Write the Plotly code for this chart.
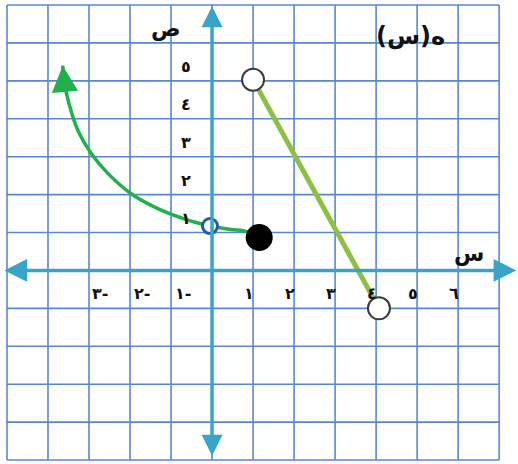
import plotly.graph_objects as go

# Grid extent (units)
x_min, x_max = -5, 7
y_min, y_max = -5, 7

# Curved piece, from the closed end point to the arrow tip
curve_x = [1.12, 0.83, 0.46, -0.05, -0.27, -0.68, -1.32, -1.98, -2.54, -2.95, -3.27, -3.49, -3.61, -3.64]
curve_y = [0.87, 1.03, 1.08, 1.17, 1.23, 1.36, 1.63, 2.03, 2.56, 3.09, 3.69, 4.41, 5.01, 5.4]

# Straight piece
line_x = [1.0, 4.07]
line_y = [5.03, -1.0]

# End points
open_big_x = [1.0, 4.07]
open_big_y = [5.03, -1.0]
open_small_x = [-0.05]
open_small_y = [1.17]
closed_x = [1.15]
closed_y = [0.87]

# Tick labels
x_ticks_pos = [1, 2, 3, 4, 5, 6]
x_ticks_pos_lbl = ["١", "٢", "٣", "٤", "٥", "٦"]
x_ticks_neg = [-1, -2, -3]
x_ticks_neg_lbl = ["١-", "٢-", "٣-"]
y_ticks = [1, 2, 3, 4, 5]
y_ticks_lbl = ["١", "٢", "٣", "٤", "٥"]

GRID = "#5a87d4"
AXIS = "#38a4c7"
CURVE = "#20b04c"
SEG = "#8cc043"
FONT = "DejaVu Sans"

fig = go.Figure()

# Square grid
shapes = []
for gx in range(x_min, x_max + 1):
    shapes.append(dict(type="line", xref="x", yref="y", x0=gx, x1=gx, y0=y_min, y1=y_max,
                       line=dict(color=GRID, width=1.6), layer="below"))
for gy in range(y_min, y_max + 1):
    shapes.append(dict(type="line", xref="x", yref="y", x0=x_min, x1=x_max, y0=gy, y1=gy,
                       line=dict(color=GRID, width=1.6), layer="below"))

annotations = []
# Coordinate axes with arrows at both ends
annotations.append(dict(x=7.42, y=0, ax=-5.1, ay=0, xref="x", yref="y", axref="x", ayref="y",
                        showarrow=True, arrowhead=2, arrowside="end+start", arrowsize=1.3,
                        arrowwidth=3.5, arrowcolor=AXIS, text=""))
annotations.append(dict(x=0, y=6.97, ax=0, ay=-4.93, xref="x", yref="y", axref="x", ayref="y",
                        showarrow=True, arrowhead=2, arrowside="end+start", arrowsize=1.2,
                        arrowwidth=3.5, arrowcolor=AXIS, text=""))

# Arrow tip on the curve, oriented along its last segment
annotations.append(dict(x=curve_x[-1], y=curve_y[-1], ax=curve_x[-2], ay=curve_y[-2],
                        xref="x", yref="y", axref="x", ayref="y",
                        showarrow=True, arrowhead=2, arrowsize=1.5, arrowwidth=3.5,
                        arrowcolor=CURVE, text=""))

lbl_font = dict(family=FONT, size=16, color="#111111", weight="bold")
for v, t in zip(x_ticks_pos, x_ticks_pos_lbl):
    annotations.append(dict(x=v - 0.1, y=-0.6, text=t, showarrow=False, font=lbl_font))
for v, t in zip(x_ticks_neg, x_ticks_neg_lbl):
    annotations.append(dict(x=v + 0.28, y=-0.6, text=t, showarrow=False, font=lbl_font))
for v, t in zip(y_ticks, y_ticks_lbl):
    annotations.append(dict(x=-0.64, y=v + 0.38, text=t, showarrow=False, font=lbl_font))

big_font = dict(family=FONT, size=22, color="#111111", weight="bold")
annotations.append(dict(x=-1.12, y=6.38, text="ص", showarrow=False, font=big_font))
annotations.append(dict(x=6.27, y=0.45, text="س", showarrow=False, font=big_font))
annotations.append(dict(x=4.85, y=6.18, text="\u202Bه(س)\u202C", showarrow=False,
                        font=dict(family=FONT, size=24, color="#111111", weight="bold")))

# Straight segment
fig.add_trace(go.Scatter(x=line_x, y=line_y, mode="lines",
                         line=dict(color=SEG, width=5), hoverinfo="skip"))

# Curve
fig.add_trace(go.Scatter(x=curve_x, y=curve_y, mode="lines",
                         line=dict(color=CURVE, width=3.5, shape="spline", smoothing=1.0),
                         hoverinfo="skip"))

# End points
fig.add_trace(go.Scatter(x=open_big_x, y=open_big_y, mode="markers",
                         marker=dict(size=22, color="white", line=dict(color="#3a3a3a", width=2)),
                         hoverinfo="skip"))
fig.add_trace(go.Scatter(x=open_small_x, y=open_small_y, mode="markers",
                         marker=dict(size=15, color="white", line=dict(color="#1f5ea6", width=3)),
                         hoverinfo="skip"))
fig.add_trace(go.Scatter(x=closed_x, y=closed_y, mode="markers",
                         marker=dict(size=27, color="black", line=dict(width=0)),
                         hoverinfo="skip"))

fig.update_layout(
    width=518, height=464,
    margin=dict(l=0, r=0, t=0, b=0),
    paper_bgcolor="white", plot_bgcolor="white",
    showlegend=False,
    shapes=shapes,
    annotations=annotations,
    xaxis=dict(range=[-5.17, 7.46], visible=False, fixedrange=True),
    yaxis=dict(range=[-5.105, 7.132], visible=False, fixedrange=True),
)

fig.write_html("out.html")
